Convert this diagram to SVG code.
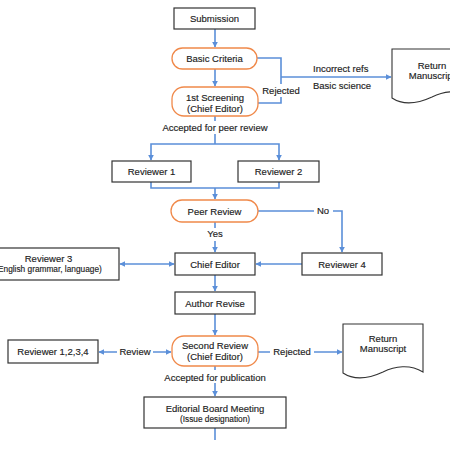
<svg xmlns="http://www.w3.org/2000/svg" width="450" height="450" viewBox="0 0 450 450">
<defs>
<marker id="ah" viewBox="0 0 10 10" refX="9" refY="5" markerWidth="6" markerHeight="6" orient="auto-start-reverse" markerUnits="userSpaceOnUse">
<path d="M0,0 L10,5 L0,10 Z" fill="#5b8fd9"/>
</marker>
<style>
.box{fill:#fff;stroke:#333;stroke-width:1.2}
.rnd{fill:#fff;stroke:#f0894a;stroke-width:1.3}
.doc{fill:#fff;stroke:#333;stroke-width:1.1}
.ln{fill:none;stroke:#5b8fd9;stroke-width:1.6}
.t{font-family:"Liberation Sans",Arial,sans-serif;font-size:9.5px;fill:#222;stroke:#222;stroke-width:0.15;text-anchor:middle}
.s{font-size:8.3px}
.l{text-anchor:start}
.bg{fill:#fff}
</style>
</defs>
<rect width="450" height="450" fill="#fff"/>
<g id="connectors">
<path class="ln" d="M215,29 V47" marker-end="url(#ah)"/>
<path class="ln" d="M215,69 V86" marker-end="url(#ah)"/>
<path class="ln" d="M257,58 H281 V103 H258"/>
<path class="ln" d="M281,77 H391" marker-end="url(#ah)"/>
<path class="ln" d="M215,116 V144"/>
<path class="ln" d="M215,144 H151 V160" marker-end="url(#ah)"/>
<path class="ln" d="M215,144 H279 V160" marker-end="url(#ah)"/>
<path class="ln" d="M151,182 V188 H279 V182"/>
<path class="ln" d="M215,188 V199" marker-end="url(#ah)"/>
<path class="ln" d="M215,222 V252" marker-end="url(#ah)"/>
<path class="ln" d="M258,211 H342 V252" marker-end="url(#ah)"/>
<path class="ln" d="M302,264 H256" marker-end="url(#ah)"/>
<path class="ln" d="M120,264 H174" marker-start="url(#ah)" marker-end="url(#ah)"/>
<path class="ln" d="M215,275 V291" marker-end="url(#ah)"/>
<path class="ln" d="M215,314 V335" marker-end="url(#ah)"/>
<path class="ln" d="M99,352 H171" marker-start="url(#ah)" marker-end="url(#ah)"/>
<path class="ln" d="M258,352 H342" marker-end="url(#ah)"/>
<path class="ln" d="M215,366 V396" marker-end="url(#ah)"/>
<path class="ln" d="M215,428 V440"/>
<rect class="bg" x="260" y="84" width="42" height="13"/>
<text class="t" x="281" y="94">Rejected</text>
<rect class="bg" x="159" y="121" width="112" height="13"/>
<text class="t" x="215" y="131">Accepted for peer review</text>
<rect class="bg" x="205" y="228" width="20" height="13"/>
<text class="t" x="215" y="237">Yes</text>
<rect class="bg" x="314" y="204" width="19" height="13"/>
<text class="t" x="323" y="214">No</text>
<text class="t l" x="313" y="72">Incorrect refs</text>
<text class="t l" x="313" y="89">Basic science</text>
<rect class="bg" x="117" y="345" width="36" height="13"/>
<text class="t" x="135" y="355">Review</text>
<rect class="bg" x="270" y="345" width="44" height="13"/>
<text class="t" x="292" y="355">Rejected</text>
<rect class="bg" x="161" y="370" width="108" height="13"/>
<text class="t" x="215" y="380.5">Accepted for publication</text>
</g>
<g id="submission"><rect class="box" x="174" y="8" width="81" height="21"/><text class="t" x="214.5" y="22">Submission</text></g>
<g id="basic-criteria"><rect class="rnd" x="172" y="48" width="85" height="21" rx="10.5"/><text class="t" x="214.5" y="62">Basic Criteria</text></g>
<g id="first-screening"><rect class="rnd" x="172" y="87" width="86" height="29" rx="12"/><text class="t" x="215" y="100.5">1st Screening</text><text class="t" x="215" y="111.5">(Chief Editor)</text></g>
<g id="return-1"><path class="doc" d="M392,49 H472 V97 C459,89 444,91 432,97 C419,103 404,106 392,98 Z"/><text class="t" x="432" y="68.5">Return</text><text class="t" x="432" y="78.5">Manuscript</text></g>
<g id="reviewer-1"><rect class="box" x="112" y="161" width="79" height="21"/><text class="t" x="151.5" y="175">Reviewer 1</text></g>
<g id="reviewer-2"><rect class="box" x="238" y="161" width="81" height="21"/><text class="t" x="278.5" y="175">Reviewer 2</text></g>
<g id="peer-review"><rect class="rnd" x="171" y="200" width="87" height="22" rx="11"/><text class="t" x="214.5" y="214.5">Peer Review</text></g>
<g id="reviewer-3"><rect class="box" x="-22" y="248" width="141" height="32"/><text class="t" x="48.5" y="261.5">Reviewer 3</text><text class="t s" x="48.5" y="271.5">(English grammar, language)</text></g>
<g id="chief-editor"><rect class="box" x="175" y="253" width="80" height="22"/><text class="t" x="215" y="267.5">Chief Editor</text></g>
<g id="reviewer-4"><rect class="box" x="302" y="253" width="80" height="22"/><text class="t" x="342" y="267.5">Reviewer 4</text></g>
<g id="author-revise"><rect class="box" x="175" y="292" width="80" height="22"/><text class="t" x="215" y="306.5">Author Revise</text></g>
<g id="second-review"><rect class="rnd" x="172" y="336" width="86" height="30" rx="12"/><text class="t" x="215" y="348.5">Second Review</text><text class="t" x="215" y="359.5">(Chief Editor)</text></g>
<g id="reviewers-all"><rect class="box" x="8" y="340" width="90" height="23"/><text class="t" x="53" y="355">Reviewer 1,2,3,4</text></g>
<g id="return-2"><path class="doc" d="M343,324 H423 V372 C410,364 395,366 383,372 C370,378 355,381 343,373 Z"/><text class="t" x="383" y="341.5">Return</text><text class="t" x="383" y="352">Manuscript</text></g>
<g id="editorial-board"><rect class="box" x="144" y="397" width="142" height="31"/><text class="t" x="215" y="412">Editorial Board Meeting</text><text class="t s" x="215" y="422">(Issue designation)</text></g>
</svg>
